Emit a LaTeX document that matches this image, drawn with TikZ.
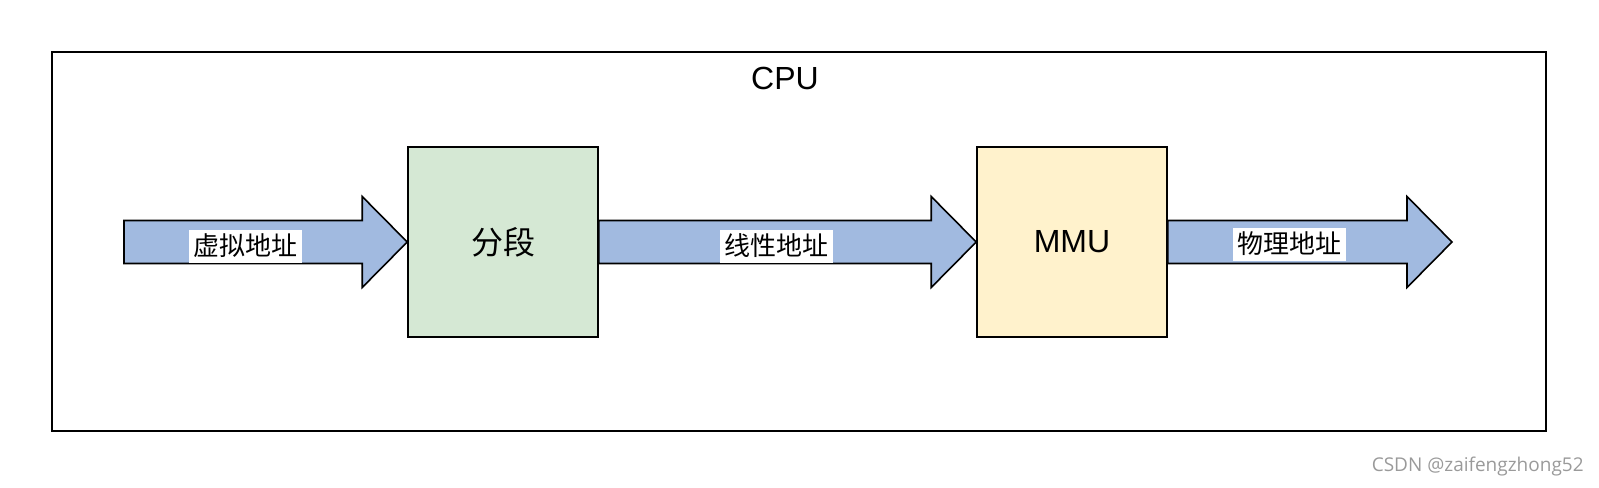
\documentclass[tikz,border=0pt]{standalone}
\usepackage{fontspec}
\setmainfont{Liberation Sans}
\newfontfamily\cjk{Noto Sans CJK SC}
\newfontfamily\wmfont{Open Sans}
\usetikzlibrary{calc}
\definecolor{cgreen}{HTML}{D5E8D4}
\definecolor{cyellow}{HTML}{FFF2CC}
\definecolor{cblue}{HTML}{A1BAE0}
\definecolor{cmark}{HTML}{9A9A9A}

\begin{document}
\begin{tikzpicture}[
  x=0.5pt, y=-0.5pt,
  unit/.style={draw, line width=0.8pt, minimum width=95pt, minimum height=95pt,
               inner sep=0pt, font=\fontsize{16}{19}\selectfont},
  addr/.style={fill=white, inner xsep=2.25pt, inner ysep=1.5pt, text height=11.5pt,
               text depth=2pt, font=\cjk\fontsize{13}{15}\selectfont},
  fat/.style={draw, line width=0.8pt, fill=cblue, line join=miter},
]
\useasboundingbox (0,0) rectangle (1599,487);
% CPU frame
\draw[line width=1pt] (52,52) rectangle (1546,431);
\node[font=\fontsize{16}{19}\selectfont] (cpu) at (785,78) {CPU};
% Units
\node[unit, fill=cgreen] (seg) at (503,242) {\cjk 分段};
\node[unit, fill=cyellow] (mmu) at (1072,242) {MMU};
\coordinate (in) at (124,242);
\coordinate (out) at (1452,242);
% Block arrows
\foreach \a/\b in {in/seg.west, seg.east/mmu.west, mmu.east/out}{
  \draw[fat] let \p1=(\a), \p2=(\b) in
    (\x1,\y1+10.75pt) -- (\x2-22.5pt,\y1+10.75pt) -- (\x2-22.5pt,\y1+22.75pt)
    -- (\x2,\y1) -- (\x2-22.5pt,\y1-22.75pt) -- (\x2-22.5pt,\y1-10.75pt)
    -- (\x1,\y1-10.75pt) -- cycle;
}
% Labels
\node[addr] (virt) at (245,246) {虚拟地址};
\node[addr] (lin) at (776,246) {线性地址};
\node[addr] (phys) at (1289,244) {物理地址};
% Watermark
\node[anchor=east, inner sep=0pt, text=cmark, font=\wmfont\fontsize{9.5}{11}\selectfont]
  (mark) at (1584,467) {CSDN @zaifengzhong52};
\end{tikzpicture}
\end{document}
